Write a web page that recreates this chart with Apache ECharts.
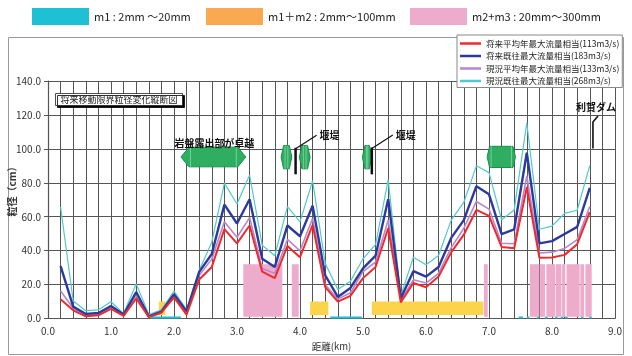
<!DOCTYPE html>
<html><head><meta charset="utf-8">
<script src="https://cdn.jsdelivr.net/npm/echarts@6/dist/echarts.min.js"></script>
<style>html,body{margin:0;padding:0;background:#fff}#c{width:632px;height:356px}</style>
</head><body><div id="c"></div>
<script>
// distance (km) of each computed section
const distanceKm = [0.2,0.4,0.6,0.8,1.0,1.2,1.4,1.6,1.8,2.0,2.2,2.4,2.6,2.8,3.0,3.2,3.4,3.6,3.8,4.0,4.2,4.4,4.6,4.8,5.0,5.2,5.4,5.6,5.8,6.0,6.2,6.4,6.6,6.8,7.0,7.2,7.4,7.6,7.8,8.0,8.2,8.4,8.6];
// grain size (cm)
const futureAvg  = [11.4,4.8,1.3,1.9,5.7,1.5,11.8,0.8,3.4,12.4,2.3,23.0,30.4,52.7,44.3,54.8,27.6,23.8,42.8,36.1,55.1,18.5,9.9,13.3,23.8,30.4,53.2,9.5,20.9,18.4,24.7,39.0,49.4,64.0,60.5,42.2,41.4,77.4,35.8,36.0,37.5,43.8,62.7];
const futureMax  = [30.9,7.0,2.7,3.2,7.4,2.3,15.6,1.2,4.0,14.3,4.2,27.5,38.0,67.1,56.0,70.3,35.2,30.4,54.8,48.5,66.5,25.5,12.7,18.0,29.5,37.1,70.3,12.0,27.9,24.7,30.4,47.5,58.0,78.0,73.2,49.8,52.6,97.7,44.3,45.6,49.8,54.0,77.0];
const presentAvg = [16.2,6.0,2.1,2.7,6.7,2.0,13.7,1.0,3.7,13.7,3.5,25.5,35.0,57.0,47.9,59.5,29.5,26.6,46.6,39.9,58.9,20.0,11.4,15.2,27.6,33.3,58.0,10.8,22.8,20.9,26.6,41.8,53.2,69.0,64.5,44.4,44.1,84.0,38.6,39.1,41.3,46.5,66.0];
const presentMax = [65.7,10.3,4.6,5.1,9.9,2.9,20.4,2.3,5.1,16.2,5.1,28.4,45.0,79.8,67.5,84.6,43.2,37.0,66.0,57.0,81.2,32.5,17.1,21.9,35.2,43.7,81.7,13.3,36.1,31.7,37.1,58.0,68.4,90.0,86.0,58.2,64.0,115.4,52.6,54.5,62.0,63.8,90.3];
// bed material reaches [from km, to km]
const m1Ranges  = [[1.63,2.11],[4.48,4.98],[7.47,7.54],[7.60,7.64],[7.76,7.80],[7.89,7.93],[8.05,8.09],[8.14,8.18],[8.21,8.25],[8.46,8.50],[8.59,8.63]];
const m12Ranges = [[1.76,1.86],[4.16,4.45],[5.14,6.91]];
const m23Ranges = [[3.10,3.72],[3.87,3.98],[6.92,6.98],[7.65,7.80],[7.81,7.89],[7.91,8.05],[8.06,8.15],[8.16,8.21],[8.23,8.44],[8.45,8.51],[8.53,8.63]];
const m1Band  = [0, 1.2];
const m12Band = [2, 10];
const m23Band = [1, 32];
// annotations: reaches [from km, to km, bottom, top]
const reachMarks = [[2.11,3.14,89.4,101.0],[3.70,3.87,88.2,102.0],[3.99,4.16,88.2,102.0],[4.99,5.14,88.2,102.0],[6.97,7.42,89.0,101.5]];
const reachLabels = ['岩盤露出部が卓越','','','',''];
const weirs = [[3.93,85,100.6],[5.14,85,100.8]];
const weirLabels = ['堰堤','堰堤'];
const dams = [[8.65,100.2,115.8]];
const damLabels = ['利賀ダム'];
const xTicks = [0,1,2,3,4,5,6,7,8,9];
const yTicks = [0,20,40,60,80,100,120,140];

const lineNames = ['将来平均年最大流量相当(113m3/s)','将来既往最大流量相当(183m3/s)','現況平均年最大流量相当(133m3/s)','現況既往最大流量相当(268m3/s)'];
const bandNames = ['m1 : 2mm ～20mm','m1＋m2 : 2mm～100mm','m2+m3 : 20mm～300mm'];
const FONT = '"Noto Sans CJK JP","Noto Sans",sans-serif';

const chart = echarts.init(document.getElementById('c'), null, {renderer:'canvas'});

function bandItem(params, api){
  const a = api.coord([api.value(0), api.value(3)]);
  const b = api.coord([api.value(1), api.value(2)]);
  return {type:'rect', shape:{x:a[0], y:a[1], width:b[0]-a[0], height:b[1]-a[1]}, style:{fill: api.visual('color')}};
}
function reachItem(params, api){
  const x0=api.value(0), x1=api.value(1), yb=api.value(2), yt=api.value(3);
  const L = api.coord([x0,(yb+yt)/2]), R = api.coord([x1,(yb+yt)/2]);
  const top = api.coord([x0,yt])[1], bot = api.coord([x0,yb])[1];
  const w = R[0]-L[0]; const d = w>40 ? 8 : 2.5;
  const ch = [
    {type:'polygon', shape:{points:[[L[0],L[1]],[L[0]+d,top],[R[0]-d,top],[R[0],R[1]],[R[0]-d,bot],[L[0]+d,bot]]}, style:{fill:'#2fae62', stroke:'#17904c', lineWidth:1}},
    {type:'line', shape:{x1:L[0]+d+1.5,y1:top,x2:L[0]+d+1.5,y2:bot}, style:{stroke:'#8fd6aa', lineWidth:0.8}},
    {type:'line', shape:{x1:R[0]-d-1.5,y1:top,x2:R[0]-d-1.5,y2:bot}, style:{stroke:'#8fd6aa', lineWidth:0.8}}
  ];
  const lab = reachLabels[params.dataIndex];
  if (lab) ch.push({type:'text', style:{text:lab, x:(L[0]+R[0])/2+1, y:top+1, textAlign:'center', textVerticalAlign:'bottom', font:'bold 10px '+FONT, fill:'#111'}});
  return {type:'group', children:ch};
}
function weirItem(params, api){
  const b = api.coord([api.value(0), api.value(1)]);
  const t = api.coord([api.value(0), api.value(2)]);
  const lx = t[0]+21, ly = t[1]-12.5;
  return {type:'group', children:[
    {type:'line', shape:{x1:b[0],y1:b[1],x2:t[0],y2:t[1]}, style:{stroke:'#111', lineWidth:2.5}},
    {type:'line', shape:{x1:t[0],y1:t[1]+1,x2:lx,y2:ly}, style:{stroke:'#111', lineWidth:1.2}},
    {type:'text', style:{text:weirLabels[params.dataIndex], x:lx+3, y:ly, textAlign:'left', textVerticalAlign:'middle', font:'bold 10px '+FONT, fill:'#111'}}
  ]};
}
function damItem(params, api){
  const b = api.coord([api.value(0), api.value(1)]);
  const t = api.coord([api.value(0), api.value(2)]);
  return {type:'group', children:[
    {type:'polyline', shape:{points:[[b[0],b[1]],[t[0],t[1]],[t[0]+5,t[1]-6]]}, style:{stroke:'#111', lineWidth:1.6, fill:null}},
    {type:'text', style:{text:damLabels[params.dataIndex], x:t[0]+3, y:t[1]-15, textAlign:'center', textVerticalAlign:'middle', font:'bold 10px '+FONT, fill:'#111'}}
  ]};
}
function lineSeries(name, data, color, width, z){
  return {type:'line', name, data: distanceKm.map((x,i)=>[x,data[i]]), symbol:'none', z, lineStyle:{color, width}, itemStyle:{color}};
}
function bandSeries(name, ranges, band, color){
  return {type:'custom', name, renderItem:bandItem, z:2, itemStyle:{color},
    encode:{x:[0,1], y:[2,3]}, data: ranges.map(r=>[r[0],r[1],band[0],band[1]])};
}
const isMajor = v => xTicks.some(t => Math.abs(t - v) < 1e-6);

const option = {
  animation:false,
  textStyle:{fontFamily:FONT},
  grid:{left:48, right:17, top:81, bottom:30},
  xAxis:{type:'value', min:0, max:9, interval:0.2,
    name:'距離(km)', nameLocation:'middle', nameGap:23, nameTextStyle:{fontSize:9.5, color:'#333', fontFamily:FONT},
    axisLine:{lineStyle:{color:'#555', width:1.2}}, axisTick:{show:false},
    axisLabel:{formatter:v=>isMajor(v)?Math.round(v).toFixed(1):'', fontSize:10, color:'#333', margin:8, fontFamily:FONT, hideOverlap:false, showMinLabel:true, showMaxLabel:true},
    splitLine:{show:true, lineStyle:{color:'#555', width:1}}},
  yAxis:{type:'value', min:0, max:140, interval:20,
    axisLine:{show:true, lineStyle:{color:'#555', width:1.2}}, axisTick:{show:true, length:4, lineStyle:{color:'#555'}},
    axisLabel:{formatter:v=>yTicks.includes(v)?v.toFixed(1):'', fontSize:10, color:'#333', margin:7, fontFamily:FONT},
    splitLine:{show:true, lineStyle:{color:'#555', width:1}}},
  legend:[
    {left:32, top:8, padding:0, itemWidth:57, itemHeight:17, icon:'rect', selectedMode:false,
     textStyle:{fontSize:11, color:'#222', fontFamily:FONT}, data:[bandNames[0]]},
    {left:206, top:8, padding:0, itemWidth:57, itemHeight:17, icon:'rect', selectedMode:false,
     textStyle:{fontSize:11, color:'#222', fontFamily:FONT}, data:[{name:bandNames[1], itemStyle:{color:'#f9a94f'}}]},
    {left:410, top:8, padding:0, itemWidth:57, itemHeight:17, icon:'rect', selectedMode:false,
     textStyle:{fontSize:11, color:'#222', fontFamily:FONT}, data:[bandNames[2]]},
    {left:457, top:35, orient:'vertical', padding:[3,3,1,3], itemGap:1.5, itemWidth:21, itemHeight:2.5, icon:'rect',
     backgroundColor:'#fff', borderColor:'#888', borderWidth:1, selectedMode:false, z:10,
     textStyle:{fontSize:8.5, lineHeight:11, color:'#222', fontFamily:FONT}, data:lineNames}
  ],
  graphic:[
    {type:'rect', left:6, top:35, z:-1, silent:true, shape:{width:615, height:317}, style:{fill:null, stroke:'#999', lineWidth:1}},
    {type:'rect', x:55.5, y:93.5, z:20, shape:{width:127, height:12}, style:{fill:'#fff', stroke:'#222', lineWidth:0.8, shadowColor:'#000', shadowOffsetX:2, shadowOffsetY:2, shadowBlur:0}},
    {type:'text', x:119, y:99.8, z:21, style:{text:'将来移動限界粒径変化縦断図', textAlign:'center', textVerticalAlign:'middle', font:'9px '+FONT, fill:'#222'}},
    {type:'text', x:12, y:189, rotation:Math.PI/2, z:21, style:{text:'粒径（cm）', textAlign:'center', textVerticalAlign:'middle', font:'bold 10px '+FONT, fill:'#333'}}
  ],
  series:[
    bandSeries(bandNames[0], m1Ranges, m1Band, '#1ec0d4'),
    bandSeries(bandNames[1], m12Ranges, m12Band, '#fcd44c'),
    bandSeries(bandNames[2], m23Ranges, m23Band, '#eeaccd'),
    lineSeries(lineNames[3], presentMax, '#52c9cc', 1.2, 3),
    lineSeries(lineNames[2], presentAvg, '#b886ca', 1.6, 4),
    lineSeries(lineNames[1], futureMax, '#2b3b9c', 2.4, 5),
    lineSeries(lineNames[0], futureAvg, '#ef2a2f', 2, 6),
    {type:'custom', renderItem:reachItem, z:7, encode:{x:[0,1], y:[2,3]}, data:reachMarks},
    {type:'custom', renderItem:weirItem, z:8, encode:{x:0, y:[1,2]}, data:weirs},
    {type:'custom', renderItem:damItem, z:8, encode:{x:0, y:[1,2]}, data:dams}
  ]
};
chart.setOption(option);
</script></body></html>
